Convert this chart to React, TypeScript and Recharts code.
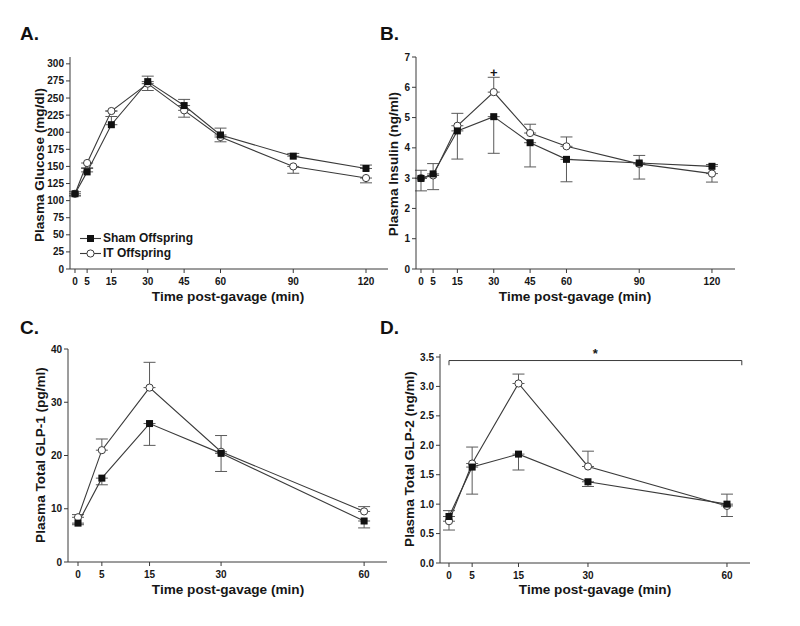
import React from 'react';
import { LineChart, Line, XAxis, YAxis, ErrorBar, Legend, ReferenceDot, ReferenceLine } from 'recharts';

const FONT = '"Liberation Sans", Arial, Helvetica, sans-serif';
const INK = '#161616';
const LINE = '#3a3a3a';
const ERR = '#5a5a5a';

// ---------- Panel A: Plasma glucose ----------
const timesAB = [0, 5, 15, 30, 45, 60, 90, 120];
const glucoseSham = [110, 142, 211, 274, 239, 196, 165, 147];
const glucoseShamLow = [3, 0, 0, 0, 0, 0, 0, 0];
const glucoseShamHigh = [3, 6, 12, 8, 9, 10, 4, 5];
const glucoseIT = [110, 155, 231, 271, 232, 193, 150, 133];
const glucoseITLow = [3, 8, 0, 10, 10, 7, 10, 7];
const glucoseITHigh = [0, 0, 0, 0, 0, 0, 0, 0];
const glucoseTicks = [0, 25, 50, 75, 100, 125, 150, 175, 200, 225, 250, 275, 300];

// ---------- Panel B: Plasma insulin ----------
const insulinSham = [2.99, 3.14, 4.56, 5.03, 4.17, 3.62, 3.5, 3.39];
const insulinShamLow = [0.41, 0.52, 0.93, 1.21, 0.8, 0.74, 0, 0];
const insulinShamHigh = [0, 0, 0, 0, 0, 0, 0.25, 0.06];
const insulinIT = [3.0, 3.09, 4.73, 5.84, 4.49, 4.05, 3.47, 3.15];
const insulinITLow = [0, 0, 0, 0, 0, 0, 0.5, 0.28];
const insulinITHigh = [0.26, 0.39, 0.41, 0.49, 0.29, 0.31, 0, 0];
const insulinTicks = [0, 1, 2, 3, 4, 5, 6, 7];

// ---------- Panel C: GLP-1 ----------
const timesCD = [0, 5, 15, 30, 60];
const glp1Sham = [7.3, 15.75, 26, 20.4, 7.7];
const glp1ShamLow = [0.3, 1.25, 4.1, 3.4, 1.3];
const glp1ShamHigh = [0, 0, 0, 0, 0];
const glp1IT = [8.4, 21, 32.75, 20.7, 9.5];
const glp1ITLow = [0, 0, 0, 0, 0];
const glp1ITHigh = [0.5, 2.1, 4.75, 3.05, 0.9];
const glp1Ticks = [0, 10, 20, 30, 40];

// ---------- Panel D: GLP-2 ----------
const glp2Sham = [0.79, 1.63, 1.85, 1.38, 1.0];
const glp2ShamLow = [0, 0.46, 0.27, 0.08, 0];
const glp2ShamHigh = [0.1, 0, 0, 0, 0.17];
const glp2IT = [0.71, 1.69, 3.05, 1.64, 0.97];
const glp2ITLow = [0.15, 0, 0, 0, 0.18];
const glp2ITHigh = [0, 0.28, 0.16, 0.26, 0];
const glp2Ticks = [0, 0.5, 1, 1.5, 2, 2.5, 3, 3.5];

const seriesNames = ['Sham Offspring', 'IT Offspring'];

function buildRows(
  times: number[], sham: number[], shamLow: number[], shamHigh: number[],
  it: number[], itLow: number[], itHigh: number[]
) {
  return times.map((t, i) => ({
    t,
    sham: sham[i],
    shamErr: [shamLow[i], shamHigh[i]],
    it: it[i],
    itErr: [itLow[i], itHigh[i]],
  }));
}

const dataA = buildRows(timesAB, glucoseSham, glucoseShamLow, glucoseShamHigh, glucoseIT, glucoseITLow, glucoseITHigh);
const dataB = buildRows(timesAB, insulinSham, insulinShamLow, insulinShamHigh, insulinIT, insulinITLow, insulinITHigh);
const dataC = buildRows(timesCD, glp1Sham, glp1ShamLow, glp1ShamHigh, glp1IT, glp1ITLow, glp1ITHigh);
const dataD = buildRows(timesCD, glp2Sham, glp2ShamLow, glp2ShamHigh, glp2IT, glp2ITLow, glp2ITHigh);

const tickStyle = { fontSize: 10, fontWeight: 700, fill: INK, fontFamily: FONT };

const squareDot = (p: any) => (
  <rect key={`sq-${p.index}`} x={p.cx - 3.5} y={p.cy - 3.5} width={7} height={7} fill="#111" />
);
const circleDot = (p: any) => (
  <circle key={`ci-${p.index}`} cx={p.cx} cy={p.cy} r={3.6} fill="#fff" stroke={LINE} strokeWidth={1} />
);

type Box = { left: number; top: number; width: number; height: number };
type Plot = { x0: number; x1: number; y0: number; y1: number };

const Y_W = 30;
const X_H = 30;

function LegendContent() {
  return (
    <div style={{ fontFamily: FONT, fontWeight: 700, fontSize: 12, color: INK, lineHeight: '15px' }}>
      {seriesNames.map((name, i) => (
        <div key={name} style={{ display: 'flex', alignItems: 'center', height: 15 }}>
          <svg width={21} height={15} style={{ display: 'block' }}>
            <line x1={0} y1={7.5} x2={21} y2={7.5} stroke={LINE} strokeWidth={1.1} />
            {i === 0 ? (
              <rect x={7} y={4} width={7} height={7} fill="#111" />
            ) : (
              <circle cx={10.5} cy={7.5} r={3.6} fill="#fff" stroke={LINE} strokeWidth={1} />
            )}
          </svg>
          <span style={{ marginLeft: 2 }}>{name}</span>
        </div>
      ))}
    </div>
  );
}

function Panel(props: {
  box: Box; plot: Plot; data: any[];
  xDomain: [number, number]; xTicks: number[];
  yDomain: [number, number]; yTicks: number[]; yFmt?: (v: number) => string;
  xTitle: string; xTitleCx: number; xTitleBase: number;
  yTitle: string; yTitleBase: number; yTitleCy: number;
  legend?: boolean; children?: React.ReactNode;
}) {
  const { box, plot } = props;
  const margin = {
    left: plot.x0 - box.left - Y_W,
    right: box.left + box.width - plot.x1,
    top: plot.y0 - box.top,
    bottom: box.top + box.height - plot.y1 - X_H,
  };
  const xLabel = () => (
    <text x={props.xTitleCx - box.left} y={props.xTitleBase - box.top} textAnchor="middle"
      style={{ fontFamily: FONT, fontWeight: 700, fontSize: 13.6, fill: INK }}>
      {props.xTitle}
    </text>
  );
  const yLabel = () => {
    const x = props.yTitleBase - box.left;
    const y = props.yTitleCy - box.top;
    return (
      <text x={x} y={y} textAnchor="middle" transform={`rotate(-90 ${x} ${y})`}
        style={{ fontFamily: FONT, fontWeight: 700, fontSize: 13.6, fill: INK }}>
        {props.yTitle}
      </text>
    );
  };
  return (
    <div style={{ position: 'absolute', left: box.left, top: box.top, width: box.width, height: box.height }}>
      <LineChart width={box.width} height={box.height} data={props.data} margin={margin}>
        <XAxis
          dataKey="t" type="number" domain={props.xDomain} ticks={props.xTicks} interval={0}
          height={X_H} axisLine={{ stroke: LINE }} tickLine={{ stroke: LINE }} tickSize={4} tickMargin={5}
          tick={tickStyle} label={xLabel}
        />
        <YAxis
          type="number" domain={props.yDomain} ticks={props.yTicks} interval={0} width={Y_W}
          axisLine={{ stroke: LINE }} tickLine={{ stroke: LINE }} tickSize={4} tickMargin={2}
          tick={tickStyle} tickFormatter={props.yFmt} label={yLabel}
        />
        {props.children}
        <Line dataKey="it" name={seriesNames[1]} stroke={LINE} strokeWidth={1.1} dot={circleDot}
          activeDot={false} isAnimationActive={false}>
          <ErrorBar dataKey="itErr" width={6} stroke={ERR} strokeWidth={1} direction="y" />
        </Line>
        <Line dataKey="sham" name={seriesNames[0]} stroke={LINE} strokeWidth={1.1} dot={squareDot}
          activeDot={false} isAnimationActive={false}>
          <ErrorBar dataKey="shamErr" width={6} stroke={ERR} strokeWidth={1} direction="y" />
        </Line>
        {props.legend ? (
          <Legend layout="vertical" align="center" verticalAlign="middle" content={LegendContent}
            wrapperStyle={{ position: 'absolute', left: 80 - box.left, top: 231 - box.top, width: 'auto', height: 'auto' }} />
        ) : null}
      </LineChart>
    </div>
  );
}

export default function App() {
  const letterStyle = { fontFamily: FONT, fontWeight: 700, fontSize: 19, fill: '#111' } as const;
  return (
    <div style={{ position: 'absolute', left: 0, top: 0, width: 800, height: 626, background: '#fff' }}>
      <Panel
        box={{ left: 0, top: 0, width: 400, height: 313 }}
        plot={{ x0: 70, x1: 388, y0: 57, y1: 269 }}
        data={dataA} xDomain={[-2.06, 129.07]} xTicks={timesAB}
        yDomain={[0, 310]} yTicks={glucoseTicks}
        xTitle="Time post-gavage (min)" xTitleCx={228} xTitleBase={301}
        yTitle="Plasma Glucose (mg/dl)" yTitleBase={44} yTitleCy={165}
        legend
      />
      <Panel
        box={{ left: 380, top: 0, width: 420, height: 313 }}
        plot={{ x0: 416, x1: 735, y0: 57, y1: 269 }}
        data={dataB} xDomain={[-2.06, 129.5]} xTicks={timesAB}
        yDomain={[0, 7]} yTicks={insulinTicks}
        xTitle="Time post-gavage (min)" xTitleCx={575} xTitleBase={301}
        yTitle="Plasma Insulin (ng/ml)" yTitleBase={398} yTitleCy={164}
      >
        <ReferenceDot x={30} y={6.5} r={1} fill="none" stroke="none"
          label={{ value: '+', position: 'center', style: { fontFamily: FONT, fontWeight: 700, fontSize: 13, fill: INK } }} />
      </Panel>
      <Panel
        box={{ left: 0, top: 313, width: 400, height: 313 }}
        plot={{ x0: 68, x1: 387, y0: 349, y1: 562 }}
        data={dataC} xDomain={[-2.1, 64.8]} xTicks={timesCD}
        yDomain={[0, 40]} yTicks={glp1Ticks}
        xTitle="Time post-gavage (min)" xTitleCx={228} xTitleBase={594}
        yTitle="Plasma Total GLP-1 (pg/ml)" yTitleBase={45} yTitleCy={455}
      />
      <Panel
        box={{ left: 380, top: 313, width: 420, height: 313 }}
        plot={{ x0: 440, x1: 750, y0: 354, y1: 563 }}
        data={dataD} xDomain={[-1.94, 64.97]} xTicks={timesCD}
        yDomain={[0, 3.551]} yTicks={glp2Ticks} yFmt={(v: number) => v.toFixed(1)}
        xTitle="Time post-gavage (min)" xTitleCx={595} xTitleBase={594}
        yTitle="Plasma Total GLP-2 (ng/ml)" yTitleBase={414} yTitleCy={459}
      >
        <ReferenceLine segment={[{ x: 0, y: 3.44 }, { x: 63.2, y: 3.44 }]} stroke={LINE} strokeWidth={1}
          ifOverflow="visible"
          label={{ value: '*', position: 'top', offset: 3, style: { fontFamily: FONT, fontWeight: 700, fontSize: 13, fill: INK } }} />
        <ReferenceLine segment={[{ x: 0, y: 3.44 }, { x: 0, y: 3.36 }]} stroke={LINE} strokeWidth={1} ifOverflow="visible" />
        <ReferenceLine segment={[{ x: 63.2, y: 3.44 }, { x: 63.2, y: 3.36 }]} stroke={LINE} strokeWidth={1} ifOverflow="visible" />
      </Panel>
      <svg width={800} height={626} style={{ position: 'absolute', left: 0, top: 0, pointerEvents: 'none' }}>
        <text x={20} y={40} style={letterStyle}>A.</text>
        <text x={380} y={40} style={letterStyle}>B.</text>
        <text x={20} y={334} style={letterStyle}>C.</text>
        <text x={380} y={334} style={letterStyle}>D.</text>
      </svg>
    </div>
  );
}
